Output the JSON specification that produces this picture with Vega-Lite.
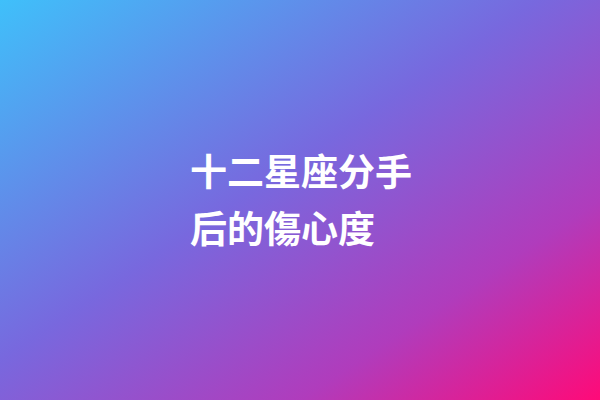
{
  "$schema": "https://vega.github.io/schema/vega-lite/v6.json",
  "width": 600,
  "height": 400,
  "padding": 0,
  "autosize": {"type": "fit", "contains": "padding"},
  "background": "#7a62dc",
  "config": {"view": {"stroke": null}},
  "layer": [
    {
      "data": {"values": [{"x0": 0, "x1": 1, "y0": 0, "y1": 1}]},
      "mark": {
        "type": "rect",
        "color": {
          "gradient": "linear",
          "x1": 0, "y1": 0, "x2": 1, "y2": 1,
          "stops": [
            {"offset": 0, "color": "#3fc0fa"},
            {"offset": 0.45, "color": "#7868de"},
            {"offset": 0.75, "color": "#b03cbc"},
            {"offset": 1, "color": "#ff0a78"}
          ]
        }
      },
      "encoding": {
        "x": {"field": "x0", "type": "quantitative", "scale": {"domain": [0, 1], "nice": false, "zero": false}, "axis": null},
        "x2": {"field": "x1"},
        "y": {"field": "y0", "type": "quantitative", "scale": {"domain": [0, 1], "nice": false, "zero": false, "reverse": true}, "axis": null},
        "y2": {"field": "y1"}
      }
    },
    {
      "data": {"values": [
        {"line": "十二星座分手", "pos": 0.4375},
        {"line": "后的傷心度", "pos": 0.58}
      ]},
      "mark": {
        "type": "text",
        "align": "left",
        "baseline": "middle",
        "font": "Noto Sans CJK SC",
        "fontSize": 37,
        "fontWeight": "bold",
        "color": "#ffffff"
      },
      "encoding": {
        "x": {"datum": 0.3167, "type": "quantitative"},
        "y": {"field": "pos", "type": "quantitative"},
        "text": {"field": "line"}
      }
    }
  ]
}
